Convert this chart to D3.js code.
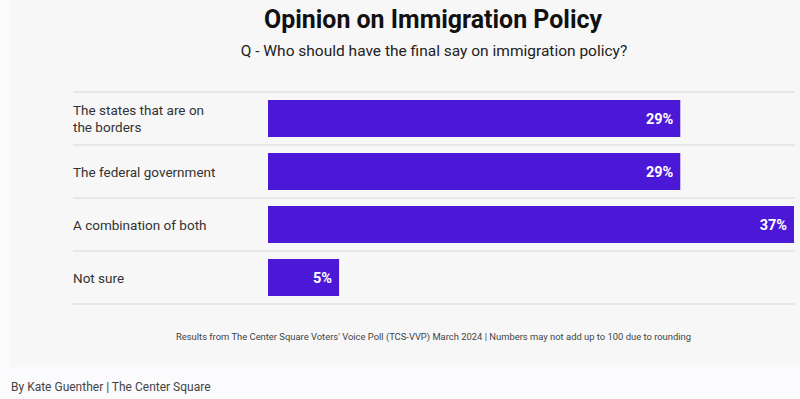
<!DOCTYPE html>
<html><head><meta charset="utf-8">
<script src="https://cdn.jsdelivr.net/npm/d3@7"></script>
<style>
html,body{margin:0;padding:0;background:#fbfbfd;}
svg{display:block;font-family:Roboto,"Noto Sans",sans-serif;}
</style></head>
<body>
<svg id="c" width="800" height="399"></svg>
<script>
const categories = [["The states that are on","the borders"],["The federal government"],["A combination of both"],["Not sure"]];
const values = [29, 29, 37, 5];
const valueLabels = ["29%","29%","37%","5%"];
const title = "Opinion on Immigration Policy";
const subtitle = "Q - Who should have the final say on immigration policy?";
const note = "Results from The Center Square Voters' Voice Poll (TCS-VVP) March 2024 | Numbers may not add up to 100 due to rounding";
const byline = "By Kate Guenther | The Center Square";

const svg = d3.select("#c");
svg.append("rect").attr("x",10).attr("y",0).attr("width",790).attr("height",367).attr("fill","#f7f7f8");

const idx = d3.range(categories.length);
const y = d3.scaleBand().domain(idx).range([92, 304]).padding(0);
const x = d3.scaleLinear().domain([0, 37]).range([268, 794]);

svg.append("text").attr("x",433).attr("y",28).attr("text-anchor","middle")
  .attr("font-size",26).attr("font-weight",700).attr("fill","#111")
  .attr("textLength",338).attr("lengthAdjust","spacingAndGlyphs").text(title);
svg.append("text").attr("x",434).attr("y",56).attr("text-anchor","middle")
  .attr("font-size",15.5).attr("fill","#222").text(subtitle);

// separator lines
const lines = idx.map(i => y(i)).concat([y(idx.length-1)+y.bandwidth()]);
svg.selectAll("line.sep").data(lines).join("line").attr("class","sep")
  .attr("x1",73).attr("x2",795).attr("y1",d=>d).attr("y2",d=>d)
  .attr("stroke","#e2e2e4").attr("stroke-width",1.5);

const inset = 8;
svg.selectAll("rect.bar").data(idx).join("rect").attr("class","bar")
  .attr("x", x(0)).attr("y", i => y(i)+inset)
  .attr("width", i => x(values[i]) - x(0))
  .attr("height", y.bandwidth() - 2*inset)
  .attr("fill","#4b18d8");

svg.selectAll("text.val").data(idx).join("text").attr("class","val")
  .attr("x", i => x(values[i]) - 7).attr("y", i => y(i)+y.bandwidth()/2 + 5)
  .attr("text-anchor","end").attr("font-size",14.5).attr("font-weight",700)
  .attr("fill","#fff").text(i => valueLabels[i]);

const lab = svg.selectAll("text.lab").data(idx).join("text").attr("class","lab")
  .attr("x",73).attr("font-size",13.5).attr("fill","#333");
lab.each(function(i){
  const lines = categories[i];
  const lh = 17;
  const cy = y(i)+y.bandwidth()/2 + 5 - (lines.length-1)*lh/2;
  d3.select(this).selectAll("tspan").data(lines).join("tspan")
    .attr("x",73).attr("y",(d,k)=>cy + k*lh).text(d=>d);
});

svg.append("text").attr("x",433.5).attr("y",340).attr("text-anchor","middle")
  .attr("font-size",9.5).attr("fill","#444")
  .attr("textLength",515).attr("lengthAdjust","spacingAndGlyphs").text(note);
svg.append("text").attr("x",11).attr("y",391)
  .attr("font-size",12).attr("fill","#444").text(byline);
</script>
</body></html>
